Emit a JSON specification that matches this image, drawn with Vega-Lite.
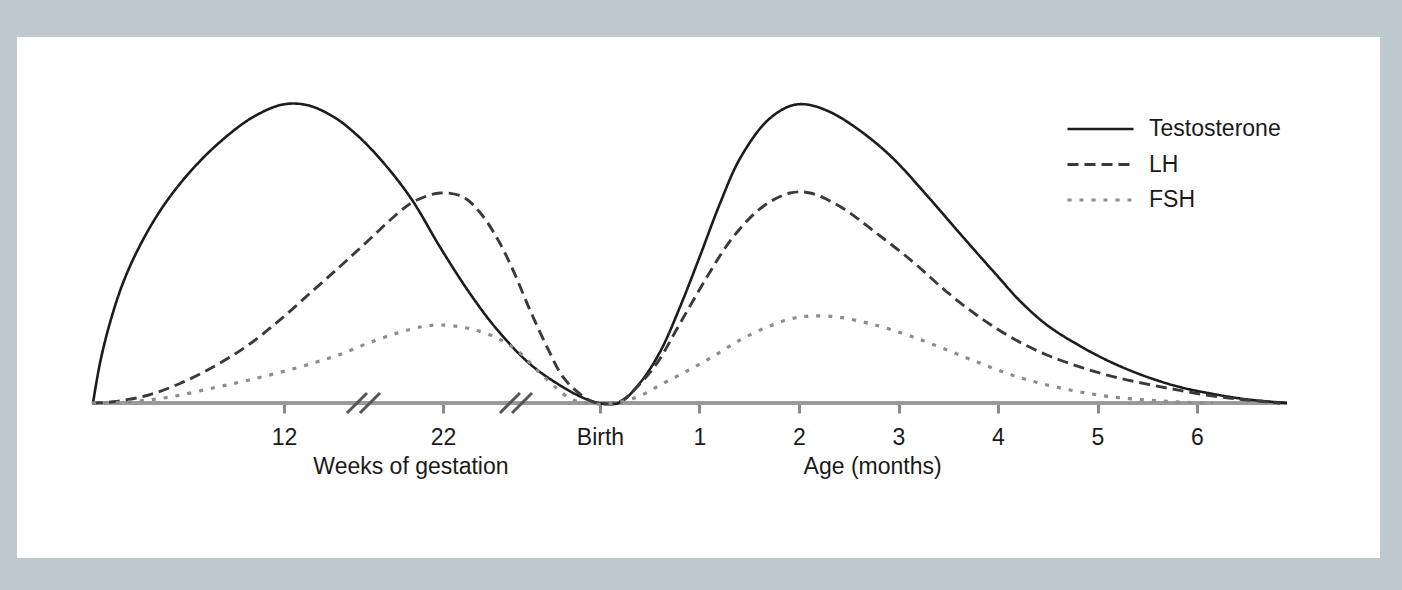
{
  "$schema": "https://vega.github.io/schema/vega-lite/v6.json",
  "autosize": {"type": "none"},
  "width": 1363,
  "height": 521,
  "padding": {"left": 17, "top": 37, "right": 22, "bottom": 32},
  "background": "#bec9cf",
  "config": {
    "view": {"fill": "white", "stroke": null},
    "font": "Liberation Sans"
  },
  "data": {"values": [
      {"series":"Testosterone","age":-5.095,"level":0},
      {"series":"Testosterone","age":-5.025,"level":13.3},
      {"series":"Testosterone","age":-4.925,"level":26.7},
      {"series":"Testosterone","age":-4.794,"level":40},
      {"series":"Testosterone","age":-4.623,"level":52.5},
      {"series":"Testosterone","age":-4.392,"level":65.5},
      {"series":"Testosterone","age":-4.121,"level":77},
      {"series":"Testosterone","age":-3.819,"level":87},
      {"series":"Testosterone","age":-3.487,"level":95.3},
      {"series":"Testosterone","age":-3.186,"level":99.5},
      {"series":"Testosterone","age":-2.945,"level":99.3},
      {"series":"Testosterone","age":-2.683,"level":95.5},
      {"series":"Testosterone","age":-2.432,"level":89},
      {"series":"Testosterone","age":-2.161,"level":79.5},
      {"series":"Testosterone","age":-1.889,"level":67.7},
      {"series":"Testosterone","age":-1.608,"level":52},
      {"series":"Testosterone","age":-1.307,"level":36.5},
      {"series":"Testosterone","age":-1.035,"level":24.5},
      {"series":"Testosterone","age":-0.704,"level":13},
      {"series":"Testosterone","age":-0.372,"level":5.3},
      {"series":"Testosterone","age":-0.131,"level":1.2},
      {"series":"Testosterone","age":0.05,"level":-0.3},
      {"series":"Testosterone","age":0.201,"level":0.2},
      {"series":"Testosterone","age":0.402,"level":6.7},
      {"series":"Testosterone","age":0.603,"level":17},
      {"series":"Testosterone","age":0.804,"level":32},
      {"series":"Testosterone","age":1.005,"level":49},
      {"series":"Testosterone","age":1.206,"level":66.5},
      {"series":"Testosterone","age":1.407,"level":81.5},
      {"series":"Testosterone","age":1.678,"level":94},
      {"series":"Testosterone","age":1.91,"level":99},
      {"series":"Testosterone","age":2.08,"level":99.5},
      {"series":"Testosterone","age":2.312,"level":97},
      {"series":"Testosterone","age":2.583,"level":91.5},
      {"series":"Testosterone","age":2.915,"level":82.5},
      {"series":"Testosterone","age":3.317,"level":68},
      {"series":"Testosterone","age":3.648,"level":55.3},
      {"series":"Testosterone","age":3.99,"level":42.5},
      {"series":"Testosterone","age":4.221,"level":34},
      {"series":"Testosterone","age":4.492,"level":26},
      {"series":"Testosterone","age":4.824,"level":19},
      {"series":"Testosterone","age":5.156,"level":13.3},
      {"series":"Testosterone","age":5.497,"level":8.7},
      {"series":"Testosterone","age":5.829,"level":5.3},
      {"series":"Testosterone","age":6.161,"level":3},
      {"series":"Testosterone","age":6.503,"level":1.2},
      {"series":"Testosterone","age":6.905,"level":0},
      {"series":"LH","age":-5.106,"level":0},
      {"series":"LH","age":-4.894,"level":0.4},
      {"series":"LH","age":-4.553,"level":2.5},
      {"series":"LH","age":-4.221,"level":6.5},
      {"series":"LH","age":-3.889,"level":12},
      {"series":"LH","age":-3.548,"level":19},
      {"series":"LH","age":-3.216,"level":27.7},
      {"series":"LH","age":-2.884,"level":37.5},
      {"series":"LH","age":-2.613,"level":45.5},
      {"series":"LH","age":-2.382,"level":52.5},
      {"series":"LH","age":-2.04,"level":63},
      {"series":"LH","age":-1.879,"level":67},
      {"series":"LH","age":-1.608,"level":70},
      {"series":"LH","age":-1.377,"level":68.7},
      {"series":"LH","age":-1.206,"level":63.5},
      {"series":"LH","age":-1.035,"level":55},
      {"series":"LH","age":-0.874,"level":44.3},
      {"series":"LH","age":-0.704,"level":31},
      {"series":"LH","age":-0.533,"level":18.7},
      {"series":"LH","age":-0.372,"level":8.7},
      {"series":"LH","age":-0.201,"level":3},
      {"series":"LH","age":-0.07,"level":0.4},
      {"series":"LH","age":0.08,"level":-0.3},
      {"series":"LH","age":0.221,"level":0.8},
      {"series":"LH","age":0.372,"level":5.3},
      {"series":"LH","age":0.573,"level":13.3},
      {"series":"LH","age":0.804,"level":26.5},
      {"series":"LH","age":1.075,"level":42},
      {"series":"LH","age":1.337,"level":55.3},
      {"series":"LH","age":1.638,"level":65.5},
      {"series":"LH","age":1.91,"level":70},
      {"series":"LH","age":2.111,"level":70},
      {"series":"LH","age":2.412,"level":65.5},
      {"series":"LH","age":2.744,"level":57.5},
      {"series":"LH","age":3.146,"level":47},
      {"series":"LH","age":3.487,"level":37},
      {"series":"LH","age":3.819,"level":28.5},
      {"series":"LH","age":4.151,"level":21.5},
      {"series":"LH","age":4.492,"level":16},
      {"series":"LH","age":4.824,"level":12},
      {"series":"LH","age":5.156,"level":8.8},
      {"series":"LH","age":5.497,"level":6.3},
      {"series":"LH","age":5.829,"level":4.2},
      {"series":"LH","age":6.161,"level":2.3},
      {"series":"LH","age":6.503,"level":1},
      {"series":"LH","age":6.834,"level":0},
      {"series":"FSH","age":-5.106,"level":0},
      {"series":"FSH","age":-4.724,"level":0.4},
      {"series":"FSH","age":-4.322,"level":2},
      {"series":"FSH","age":-3.889,"level":5},
      {"series":"FSH","age":-3.548,"level":7.5},
      {"series":"FSH","age":-3.216,"level":10.2},
      {"series":"FSH","age":-2.884,"level":13.3},
      {"series":"FSH","age":-2.613,"level":16.2},
      {"series":"FSH","age":-2.342,"level":19.8},
      {"series":"FSH","age":-2.04,"level":23.3},
      {"series":"FSH","age":-1.779,"level":25.5},
      {"series":"FSH","age":-1.608,"level":26},
      {"series":"FSH","age":-1.337,"level":25},
      {"series":"FSH","age":-1.035,"level":21.7},
      {"series":"FSH","age":-0.804,"level":16.7},
      {"series":"FSH","age":-0.633,"level":11},
      {"series":"FSH","age":-0.432,"level":4.8},
      {"series":"FSH","age":-0.302,"level":1.5},
      {"series":"FSH","age":-0.171,"level":0.2},
      {"series":"FSH","age":0.08,"level":-0.3},
      {"series":"FSH","age":0.372,"level":2},
      {"series":"FSH","age":0.633,"level":6.5},
      {"series":"FSH","age":0.905,"level":11.2},
      {"series":"FSH","age":1.136,"level":15.5},
      {"series":"FSH","age":1.407,"level":21},
      {"series":"FSH","age":1.678,"level":25.3},
      {"series":"FSH","age":1.91,"level":28},
      {"series":"FSH","age":2.111,"level":29},
      {"series":"FSH","age":2.382,"level":28.7},
      {"series":"FSH","age":2.683,"level":26.7},
      {"series":"FSH","age":2.844,"level":25.3},
      {"series":"FSH","age":3.146,"level":22},
      {"series":"FSH","age":3.487,"level":17.7},
      {"series":"FSH","age":3.819,"level":13.3},
      {"series":"FSH","age":4.151,"level":9.2},
      {"series":"FSH","age":4.492,"level":6},
      {"series":"FSH","age":4.824,"level":3.7},
      {"series":"FSH","age":5.156,"level":2},
      {"series":"FSH","age":5.497,"level":1},
      {"series":"FSH","age":5.829,"level":0.3},
      {"series":"FSH","age":6.161,"level":0}
  ]},
  "encoding": {
    "x": {
      "field": "age", "type": "quantitative",
      "scale": {"domain": [-5.859, 7.839], "nice": false, "zero": false},
      "axis": {
        "values": [-3.176, -1.578, 0, 1, 2, 3, 4, 5, 6],
        "labelExpr": "datum.value < -2 ? '12' : datum.value < -1 ? '22' : datum.value == 0 ? 'Birth' : format(datum.value, 'd')",
        "domain": false, "grid": false, "title": null,
        "ticks": true, "tickSize": 10, "tickWidth": 3, "tickColor": "#8a8a8a",
        "labelFontSize": 23, "labelFont": "Liberation Sans", "labelColor": "#1a1a1a",
        "labelPadding": 13, "labelFlush": false, "labelOverlap": false,
        "offset": -155
      }
    },
    "y": {
      "field": "level", "type": "quantitative",
      "scale": {"domain": [-51.67, 122], "nice": false, "zero": false},
      "axis": null
    }
  },
  "layer": [
    {
      "transform": [
        {"aggregate": [{"op": "min", "field": "age", "as": "age"}, {"op": "max", "field": "age", "as": "age2"}]},
        {"calculate": "0", "as": "level"}
      ],
      "mark": {"type": "rule", "color": "#9a9a9a", "strokeWidth": 4},
      "encoding": {
        "x2": {"field": "age2"}
      }
    },
    {
      "data": {"values": [{"age": -2.442}, {"age": -2.312}, {"age": -0.905}, {"age": -0.784}]},
      "transform": [{"calculate": "0", "as": "level"}],
      "mark": {"type": "rule", "color": "#555555", "strokeWidth": 3, "xOffset": -10, "x2Offset": 10, "yOffset": 10, "y2Offset": -10},
      "encoding": {
        "x2": {"field": "age"},
        "y2": {"field": "level"}
      }
    },
    {
      "mark": {"type": "line", "interpolate": "catmull-rom"},
      "encoding": {
        "color": {
          "field": "series", "type": "nominal",
          "scale": {"domain": ["Testosterone", "LH", "FSH"], "range": ["#1c1c1c", "#3a3a3a", "#8c8c8c"]},
          "legend": {
            "title": null, "orient": "none", "legendX": 1048.5, "legendY": 75,
            "padding": 0, "symbolType": "stroke", "symbolSize": 4356, "symbolStrokeWidth": 3,
            "labelFontSize": 23, "labelFont": "Liberation Sans", "labelColor": "#1a1a1a",
            "labelOffset": 13.5, "rowPadding": 1.5, "clipHeight": 34
          }
        },
        "strokeDash": {
          "field": "series", "type": "nominal",
          "scale": {"domain": ["Testosterone", "LH", "FSH"], "range": [[1, 0], [11, 6], [4, 8]]},
          "legend": {
            "title": null, "orient": "none", "legendX": 1048.5, "legendY": 75,
            "padding": 0, "symbolType": "stroke", "symbolSize": 4356, "symbolStrokeWidth": 3,
            "labelFontSize": 23, "labelFont": "Liberation Sans", "labelColor": "#1a1a1a",
            "labelOffset": 13.5, "rowPadding": 1.5, "clipHeight": 34
          }
        },
        "strokeWidth": {
          "field": "series", "type": "nominal",
          "scale": {"domain": ["Testosterone", "LH", "FSH"], "range": [2.6, 3.2, 4]},
          "legend": {
            "title": null, "orient": "none", "legendX": 1048.5, "legendY": 75,
            "padding": 0, "symbolType": "stroke", "symbolSize": 4356, "symbolStrokeWidth": 3,
            "labelFontSize": 23, "labelFont": "Liberation Sans", "labelColor": "#1a1a1a",
            "labelOffset": 13.5, "rowPadding": 1.5, "clipHeight": 34
          }
        }
      }
    },
    {
      "data": {"values": [{"label": "Weeks of gestation", "age": -1.9}, {"label": "Age (months)", "age": 2.74}]},
      "transform": [{"calculate": "0", "as": "level"}],
      "mark": {"type": "text", "fontSize": 23, "font": "Liberation Sans", "color": "#1a1a1a", "align": "center", "baseline": "alphabetic", "dy": 71},
      "encoding": {
        "text": {"field": "label", "type": "nominal"}
      }
    }
  ]
}
